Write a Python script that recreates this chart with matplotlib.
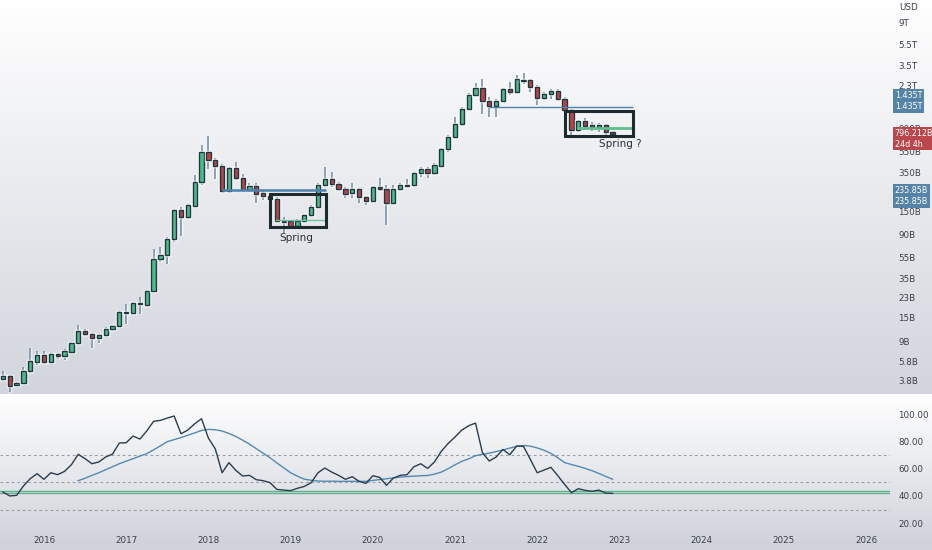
import numpy as np
import matplotlib
matplotlib.use("Agg")
import matplotlib.pyplot as plt
from matplotlib import patheffects as pe
from matplotlib.patches import Rectangle
from matplotlib.ticker import NullLocator

plt.rcParams['font.family'] = ['Liberation Sans Narrow', 'DejaVu Sans']

# monthly candles, Jul 2015 .. Dec 2022, total crypto market cap (billions USD)
OPEN = [3.94, 4.26, 3.46, 3.62, 4.75, 5.77, 6.66, 5.77, 6.86, 6.56,
        7.16, 8.59, 11.1, 10.4, 9.74, 10.3, 11.6, 12.45, 16.7, 16.7,
        20.4, 19.65, 26.5, 52.9, 57.7, 82.2, 154, 133, 168, 280,
        540, 454, 402, 233, 385, 305, 237, 258, 220, 209,
        194, 119, 120.5, 109, 122, 137, 165, 264, 300, 270,
        242, 220, 240, 203, 188, 251, 240, 180, 240, 265,
        264, 345, 372, 341, 402, 578, 752, 983, 1360, 1852,
        2157, 1627, 1460, 1627, 2096, 1964, 2580, 2564, 2190, 1750,
        1881, 2034, 1690, 1340, 869, 1056, 962, 920, 962, 834]
HIGH = [4.75, 4.30, 3.69, 5.11, 7.71, 7.32, 7.32, 7.00, 6.90, 7.54,
        8.84, 12.7, 11.7, 10.7, 10.55, 12.2, 12.9, 17.2, 20.1, 21.1,
        23.5, 27.2, 66.1, 69.5, 85.3, 157, 165, 175, 328, 628,
        764, 471, 416, 393, 432, 333, 278, 275, 232, 212,
        204, 131, 124, 126, 141, 171, 275, 388, 353, 280,
        251, 275, 246, 208, 258, 309, 264, 264, 275, 298,
        350, 393, 393, 424, 592, 780, 1158, 1439, 1923, 2387,
        2603, 1762, 1700, 2143, 2440, 2860, 3000, 2620, 2300, 1991,
        2096, 2096, 1762, 1360, 1079, 1119, 1040, 1020, 1000, 835]
LOW = [3.82, 3.01, 3.41, 3.56, 4.55, 5.37, 5.48, 5.70, 6.07, 5.98,
       6.99, 8.47, 10.1, 7.71, 8.59, 10.15, 11.3, 12.2, 13.0, 16.2,
       16.3, 19.3, 25.9, 49.6, 47.8, 77.0, 87.6, 126, 163, 264,
       372, 298, 229, 229, 294, 232, 229, 178, 191, 188,
       119, 94.2, 106, 107, 119, 133, 163, 258, 251, 233,
       198, 198, 178, 171, 184, 233, 111, 178, 232, 259,
       258, 317, 305, 328, 388, 545, 742, 946, 1340, 1812,
       1229, 1159, 1159, 1590, 1852, 1935, 2352, 1991, 1493, 1663,
       1690, 1663, 1275, 780, 834, 869, 853, 834, 742, 790]
CLOSE = [4.26, 3.43, 3.64, 4.75, 5.85, 6.66, 5.77, 6.86, 6.56, 7.27,
         8.59, 11.1, 10.55, 9.74, 10.3, 11.75, 12.6, 16.95, 16.85, 20.7,
         19.95, 26.5, 53.2, 57.7, 82.2, 154, 132, 170, 280, 540,
         454, 402, 233, 385, 305, 237, 258, 217, 209, 194,
         122, 122, 109, 122, 137, 165, 264, 300, 268, 242,
         217, 242, 203, 188, 251, 240, 180, 240, 264, 261,
         345, 372, 341, 408, 572, 752, 983, 1360, 1852, 2157,
         1627, 1460, 1627, 2096, 1964, 2620, 2530, 2190, 1750, 1881,
         2034, 1690, 1340, 869, 1056, 948, 920, 962, 834, 796.212]

RSI = [42.9, 40.0, 40.4, 47.3, 52.7, 56.3, 52.2, 57.0, 55.6, 58.0,
       62.9, 70.5, 67.3, 63.6, 64.9, 68.5, 70.7, 78.8, 79.0, 83.9,
       81.7, 87.6, 94.7, 95.4, 97.1, 98.6, 85.6, 88.3, 92.9, 96.6,
       82.4, 74.6, 57.0, 64.4, 58.8, 54.6, 55.1, 51.9, 51.2, 49.7,
       44.8, 44.3, 43.9, 45.6, 47.0, 49.7, 57.0, 60.5, 57.5, 55.1,
       52.2, 54.1, 50.7, 49.2, 54.8, 53.6, 47.8, 53.1, 55.1, 55.6,
       61.4, 63.6, 60.2, 64.9, 72.7, 78.5, 83.2, 88.3, 91.5, 93.4,
       71.7, 65.6, 68.5, 74.1, 70.2, 76.6, 76.3, 66.8, 57.0, 59.0,
       61.0, 54.9, 48.5, 42.4, 45.3, 44.1, 43.4, 44.3, 42.1, 41.9]
RSI_MA_START = 11
RSI_MA = [51.2, 53.0, 55.0, 57.0, 59.2, 61.4, 63.6, 65.5, 67.3,
          69.2, 71.0, 73.8, 76.7, 79.8, 81.3, 82.8, 84.5, 86.2, 88.0,
          88.8, 88.5, 87.6, 85.8, 83.6, 80.9, 78.0, 74.6, 71.3, 68.0,
          64.2, 60.6, 57.0, 54.5, 52.3, 51.5, 50.9, 50.8, 50.8, 50.7,
          50.7, 50.7, 50.7, 50.7, 51.4, 52.0, 52.6, 53.2, 53.8, 54.2,
          54.5, 54.8, 55.0, 56.0, 57.5, 60.0, 62.8, 65.4, 67.2, 69.5,
          70.5, 71.4, 72.5, 73.7, 75.1, 76.3, 77.0, 76.5, 75.2, 73.5,
          71.2, 68.0, 64.5, 63.0, 61.7, 60.2, 58.5, 56.5, 54.3, 52.3]

YEARS = ['2016', '2017', '2018', '2019', '2020', '2021', '2022', '2023', '2024', '2025', '2026']
YEAR_IDX = [6, 18, 30, 42, 54, 66, 78, 90, 102, 114, 126]   # January candles

PRICE_TICKS = [3.8, 5.8, 9, 15, 23, 35, 55, 90, 150, 350, 550, 900, 2300, 3500, 5500, 9000]
PRICE_LABELS = ['3.8B', '5.8B', '9B', '15B', '23B', '35B', '55B', '90B', '150B',
                '350B', '550B', '900B', '2.3T', '3.5T', '5.5T', '9T']
RSI_TICKS = [20, 40, 60, 80, 100]

LEVEL_LOW = 235.85
LEVEL_HIGH = 1435
LAST_PRICE = 796.212

UP = '#52b68a'
DOWN = '#b5444a'
EDGE = '#1f3840'
WICK = '#6f89a3'
TXT = '#3b3f4a'

fig = plt.figure(figsize=(9.32, 5.5), dpi=100)

# background gradient for both panes
H = 550
grad = np.ones((H, 3))
top = np.array([1.0, 1.0, 1.0])
main_bot = np.array([210, 213, 221]) / 255
rsi_bot = np.array([207, 210, 218]) / 255
for r in range(H):
    if r < 394:
        t = r / 393
        grad[r] = top * (1 - t) + main_bot * t
    else:
        t = min((r - 395) / 150, 1)
        grad[r] = top * (1 - t) + rsi_bot * t
bg = fig.add_axes([0, 0, 1, 1], zorder=-1)
bg.imshow(grad[:, None, :], aspect='auto', extent=[0, 1, 0, 1])
bg.axis('off')

ax = fig.add_axes([0, 1 - 393 / 550, 890 / 932, 393 / 550])
rx = fig.add_axes([0, 1 - 528 / 550, 890 / 932, 133 / 550], sharex=ax)
for a in (ax, rx):
    a.set_facecolor('none')
    for s in a.spines.values():
        s.set_visible(False)

n = len(CLOSE)
idx = np.arange(n)
o = np.array(OPEN)
c = np.array(CLOSE)
up = c >= o
halo = [pe.Stroke(linewidth=2.5, foreground='white', alpha=0.7), pe.Normal()]

ax.vlines(idx, LOW, HIGH, color=WICK, lw=1.1, zorder=2, path_effects=halo)
bars = ax.bar(idx, np.abs(c - o), bottom=np.minimum(o, c), width=0.62,
              color=np.where(up, UP, DOWN), edgecolor=EDGE, linewidth=1.0, zorder=3)
for b in bars:
    b.set_path_effects(halo)

ax.set_yscale('log')
ax.set_ylim(2.93, 14490)
ax.set_xlim(-0.42, 129.5)

# drawings
ax.hlines(LEVEL_LOW, 32, 47.1, color='#4d82ad', lw=1.8, zorder=4)
ax.hlines(LEVEL_HIGH, 71, 92, color='#4d82ad', lw=1.0, zorder=4)
ax.add_patch(Rectangle((39, 106.5), 8.1, 216 - 106.5, fill=False, ec='#1d2b30', lw=2.2, zorder=5))
ax.add_patch(Rectangle((82, 768), 10, 1320 - 768, fill=False, ec='#1d2b30', lw=2.2, zorder=5))
ax.hlines(123, 39.7, 47.1, color='#6cc49a', lw=1.0, zorder=4)
ax.hlines(902, 83.8, 92, color='#5fbf8f', lw=2.0, zorder=4)
ax.text(42.9, 84, 'Spring', ha='center', va='center', fontsize=7.5, color='#2a2e39')
ax.text(90.1, 642, 'Spring ?', ha='center', va='center', fontsize=7.5, color='#2a2e39')

# right price axis
ax.yaxis.tick_right()
ax.yaxis.set_minor_locator(NullLocator())
ax.set_yticks(PRICE_TICKS)
ax.set_yticklabels(PRICE_LABELS)
ax.tick_params(axis='y', length=0, pad=6, labelsize=6.3, labelcolor=TXT)
ax.tick_params(axis='x', bottom=False, labelbottom=False)
fig.text(899 / 932, 1 - 8 / 550, 'USD', fontsize=6.3, color=TXT, va='center')

tr = ax.get_yaxis_transform()
def price_tag(val, text, color, dy=0):
    ax.annotate(text, xy=(1, val), xycoords=tr, xytext=(3.5, dy), textcoords='offset points',
                ha='left', va='center', fontsize=5.8, color='white', annotation_clip=False,
                bbox=dict(boxstyle='square,pad=0.22', fc=color, ec='none'), zorder=10)

price_tag(LEVEL_HIGH, '1.435T', '#5584a8')
price_tag(LEVEL_HIGH, '1.435T', '#5584a8', dy=8)
price_tag(LEVEL_LOW, '235.85B', '#5584a8')
price_tag(LEVEL_LOW, '235.85B', '#5584a8', dy=-8)
price_tag(LAST_PRICE, '796.212B\n24d 4h', '#b9474c', dy=-3.5)

# RSI pane
for lvl in (70, 50, 30):
    rx.axhline(lvl, color='#9a9ea6', lw=0.8, ls=(0, (2.5, 2.5)))
rx.axhline(41.8, color='#5fb38c', lw=1.0)
rx.axhline(43.9, color='#5fb38c', lw=1.0)
rx.plot(idx, RSI, color='#2b3d4f', lw=1.0, zorder=4)
rx.plot(np.arange(RSI_MA_START, RSI_MA_START + len(RSI_MA)), RSI_MA, color='#5489b3', lw=1.0, zorder=3)
rx.set_ylim(16.5, 114)
rx.yaxis.tick_right()
rx.set_yticks(RSI_TICKS)
rx.set_yticklabels(['%.2f' % v for v in RSI_TICKS])
rx.tick_params(axis='y', length=0, pad=6, labelsize=6.3, labelcolor=TXT)
rx.set_xticks(YEAR_IDX)
rx.set_xticklabels(YEARS)
rx.tick_params(axis='x', length=0, pad=6, labelsize=6.3, labelcolor=TXT)

fig.savefig('out.png', dpi=100)
